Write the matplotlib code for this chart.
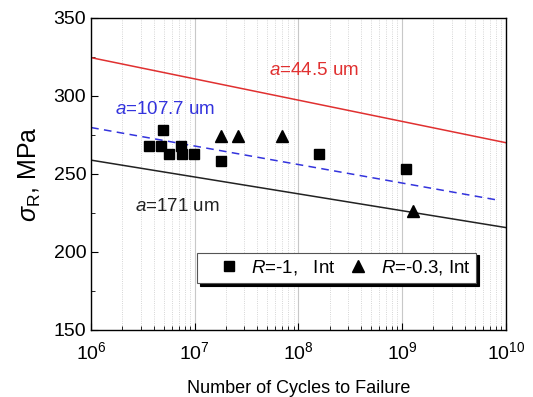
import matplotlib
matplotlib.use('Agg')
import matplotlib.pyplot as plt
import numpy as np

plt.rcParams['font.family'] = ['Liberation Sans', 'DejaVu Sans']
plt.rcParams['mathtext.fontset'] = 'custom'
plt.rcParams['mathtext.rm'] = 'Liberation Sans'
plt.rcParams['mathtext.it'] = 'Liberation Sans:italic'

# data
n_r1 = [3.6e6, 4.9e6, 4.7e6, 5.6e6, 7.3e6, 7.6e6, 9.9e6, 1.8e7, 1.56e8, 1.1e9]
s_r1 = [268, 278, 268, 263, 268, 263, 263, 258, 263, 253]
n_r03 = [1.8e7, 2.6e7, 6.9e7, 1.28e9]
s_r03 = [274, 274, 274, 226]

line_n = [1e6, 1e10]
red_s = [324.5, 270]
blue_n = [1e6, 8.2e9]
blue_s = [279.7, 233.3]
black_s = [258.8, 215.6]

fig = plt.figure(figsize=(5.33, 3.97), dpi=100)
ax = fig.add_axes([0.171, 0.169, 0.778, 0.786])

ax.plot(line_n, red_s, color='#e03030', lw=1.1)
ax.plot(blue_n, blue_s, color='#3333dd', lw=1.1, ls=(0, (5, 3.5)))
ax.plot(line_n, black_s, color='#222222', lw=1.1)

ax.plot(n_r1, s_r1, 's', color='black', ms=7, ls='none', label=r'$R$=-1,   Int')
ax.plot(n_r03, s_r03, '^', color='black', ms=8, ls='none', label=r'$R$=-0.3, Int')

ax.set_xscale('log')
ax.set_xlim(1e6, 1e10)
ax.set_ylim(150, 350)
ax.set_yticks([150, 200, 250, 300, 350])
ax.set_yticks([175, 225, 275, 325], minor=True)

ax.grid(True, which='major', axis='x', color='#c8c8c8', lw=0.8)
ax.grid(True, which='minor', axis='x', color='#c8c8c8', lw=0.6, ls=':')

ax.tick_params(which='both', direction='in', labelsize=14)
ax.tick_params(which='major', length=5)
ax.tick_params(which='minor', length=3)
ax.tick_params(axis='x', which='both', pad=8)
for sp in ax.spines.values():
    sp.set_linewidth(1.0)

ax.set_xlabel('Number of Cycles to Failure', fontsize=13, labelpad=12)
ax.set_ylabel(r'$\it{\sigma}_{\rm R}$, MPa', fontsize=18, labelpad=8)

ax.text(0.43, 0.832, r'$a$=44.5 um', transform=ax.transAxes, color='#e03030', fontsize=13.5, va='center')
ax.text(0.058, 0.706, r'$a$=107.7 um', transform=ax.transAxes, color='#3333dd', fontsize=13.5, va='center')
ax.text(0.106, 0.397, r'$a$=171 um', transform=ax.transAxes, color='#222222', fontsize=13.5, va='center')

leg = ax.legend(loc='lower left', bbox_to_anchor=(0.255, 0.151), borderaxespad=0,
                ncol=2, fontsize=13.5, fancybox=False, framealpha=1, edgecolor='#555555',
                shadow={'color': 'black', 'alpha': 1}, handletextpad=-0.2,
                columnspacing=-0.2, handlelength=2.8, borderpad=0.3)
leg.get_frame().set_linewidth(0.8)

fig.savefig('out.png', dpi=100)
